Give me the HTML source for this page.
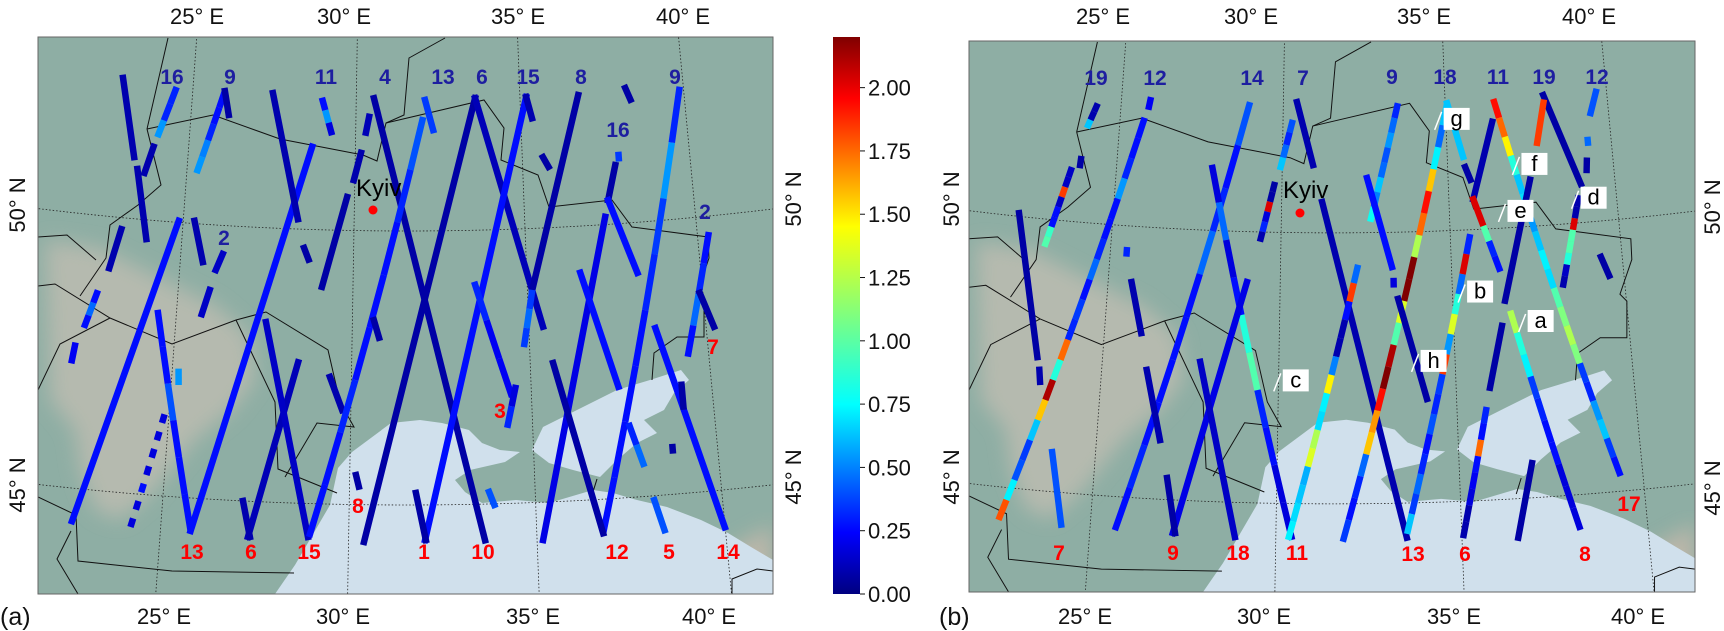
<!DOCTYPE html>
<html><head><meta charset="utf-8"><style>
html,body{margin:0;padding:0;background:#fff;}
svg{display:block;font-family:"Liberation Sans",sans-serif;}
.ax{font-size:22px;fill:#111;}
.lb{font-size:21px;font-weight:bold;}
.bl{fill:#1e1ea0;} .rd{fill:#ff0000;}
</style></head><body>
<svg id="fig" width="1724" height="631" viewBox="0 0 1724 631">
<defs>
<clipPath id="clipA" clipPathUnits="userSpaceOnUse"><rect x="38" y="37" width="735" height="557"/></clipPath>
<filter id="blur" x="-20%" y="-20%" width="140%" height="140%"><feGaussianBlur stdDeviation="10"/></filter>
<linearGradient id="jet" x1="0" y1="1" x2="0" y2="0">
<stop offset="0" stop-color="#000080"/><stop offset="0.11" stop-color="#0000ff"/><stop offset="0.34" stop-color="#00ffff"/><stop offset="0.5" stop-color="#7fff7f"/><stop offset="0.66" stop-color="#ffff00"/><stop offset="0.89" stop-color="#ff0000"/><stop offset="1" stop-color="#800000"/>
</linearGradient>
<g id="mapbg">
<rect x="38" y="37" width="735" height="557" fill="#8eaea4"/>
<polygon filter="url(#blur)" fill="#d6c4b8" opacity="0.55" points="45,240 100,248 160,278 215,305 250,335 255,380 232,410 195,440 150,495 120,520 95,510 80,470 75,430 50,400"/>
<polygon filter="url(#blur)" fill="#d6bcad" opacity="0.65" points="700,565 773,525 773,594 710,594"/>
<polygon fill="#d0e0ec" points="275,594 295,565 330,505 338,468 352,452 391,423 420,420 442,423 469,430 482,443 500,450 520,452 505,462 470,470 455,480 465,492 482,503 516,500 549,503 593,490 613,493 637,500 667,507 701,520 728,533 751,547 773,560 773,594"/>
<polygon fill="#d0e0ec" points="532,450 543,427 583,407 617,390 650,380 681,370 689,380 674,393 664,410 644,420 657,433 637,443 617,460 600,477 573,470 549,463"/>
<g fill="none" stroke="#111" stroke-width="1">
<polyline points="147,129 213,115 280,139 363,155 377,161 386,123 404,115 409,58 445,38"/>
<polyline points="386,123 484,100 504,128 501,160 538,175 549,207 612,200 632,227 708,237 709,258 697,293 704,300 704,337 677,337 654,353 652,380"/>
<polyline points="147,129 168,38"/>
<polyline points="147,129 161,185 138,205 110,225 106,258 80,296"/>
<polyline points="38,237 67,235 96,260"/>
<polyline points="38,286 55,284 110,318 172,344 236,320 266,312 328,350 340,402 354,427 317,423 285,477"/>
<polyline points="236,320 275,402 278,469 337,493"/>
<polyline points="38,390 60,344 110,318"/>
<polyline points="38,497 76,515 78,561 172,571 294,573"/>
<polyline points="71,531 57,559 78,594"/>
<polyline points="597,479 592,495"/>
<polyline points="732,594 732,579 757,569 773,571"/>
</g>
</g>
</defs>

<g id="panelA">
<g clip-path="url(#clipA)"><use href="#mapbg"/><g class="grat"></g><g class="tracks"></g></g>
</g>
<g id="panelB" transform="translate(969,41) scale(0.9878,0.989) translate(-38,-37)">
<g clip-path="url(#clipA)"><use href="#mapbg"/><g class="grat"></g><g class="tracks"></g></g>
</g>
<rect x="38" y="37" width="735" height="557" fill="none" stroke="#666" stroke-width="1"/>
<rect x="969" y="41" width="726" height="551" fill="none" stroke="#666" stroke-width="1"/>

<circle cx="373" cy="210" r="4.5" fill="#f00"/>
<text x="356" y="196" font-size="24" fill="#000">Kyiv</text>
<circle cx="1300" cy="213" r="4.5" fill="#f00"/>
<text x="1283" y="198" font-size="24" fill="#000">Kyiv</text>

<g class="ax" text-anchor="middle">
<text x="197" y="24">25° E</text><text x="344" y="24">30° E</text><text x="518" y="24">35° E</text><text x="683" y="24">40° E</text>
<text x="164" y="624">25° E</text><text x="343" y="624">30° E</text><text x="533" y="624">35° E</text><text x="709" y="624">40° E</text>
<text x="1103" y="24">25° E</text><text x="1251" y="24">30° E</text><text x="1424" y="24">35° E</text><text x="1589" y="24">40° E</text>
<text x="1085" y="624">25° E</text><text x="1264" y="624">30° E</text><text x="1454" y="624">35° E</text><text x="1638" y="624">40° E</text>
<text transform="translate(25,205) rotate(-90)">50° N</text><text transform="translate(25,485) rotate(-90)">45° N</text>
<text transform="translate(801,199) rotate(-90)">50° N</text><text transform="translate(801,477) rotate(-90)">45° N</text>
<text transform="translate(959,199) rotate(-90)">50° N</text><text transform="translate(959,477) rotate(-90)">45° N</text>
<text transform="translate(1720,207) rotate(-90)">50° N</text><text transform="translate(1720,488) rotate(-90)">45° N</text>
</g>
<text x="0" y="625" font-size="25" fill="#111">(a)</text>
<text x="939" y="625" font-size="25" fill="#111">(b)</text>

<g class="lb" text-anchor="middle">
<text class="bl" x="172" y="84">16</text><text class="bl" x="230" y="84">9</text><text class="bl" x="326" y="84">11</text><text class="bl" x="385" y="84">4</text><text class="bl" x="443" y="84">13</text><text class="bl" x="482" y="84">6</text><text class="bl" x="528" y="84">15</text><text class="bl" x="581" y="84">8</text><text class="bl" x="618" y="137">16</text><text class="bl" x="675" y="84">9</text><text class="bl" x="224" y="245">2</text><text class="bl" x="705" y="219">2</text>
<text class="rd" x="192" y="559">13</text><text class="rd" x="251" y="559">6</text><text class="rd" x="309" y="559">15</text><text class="rd" x="424" y="559">1</text><text class="rd" x="483" y="559">10</text><text class="rd" x="617" y="559">12</text><text class="rd" x="669" y="559">5</text><text class="rd" x="728" y="559">14</text><text class="rd" x="500" y="418">3</text><text class="rd" x="358" y="513">8</text><text class="rd" x="713" y="354">7</text>
</g>
<g class="lb" text-anchor="middle">
<text class="bl" x="1096" y="85">19</text><text class="bl" x="1155" y="85">12</text><text class="bl" x="1252" y="85">14</text><text class="bl" x="1303" y="85">7</text><text class="bl" x="1392" y="84">9</text><text class="bl" x="1445" y="84">18</text><text class="bl" x="1498" y="84">11</text><text class="bl" x="1544" y="84">19</text><text class="bl" x="1597" y="84">12</text>
<text class="rd" x="1059" y="560">7</text><text class="rd" x="1173" y="560">9</text><text class="rd" x="1238" y="560">18</text><text class="rd" x="1297" y="560">11</text><text class="rd" x="1413" y="561">13</text><text class="rd" x="1465" y="561">6</text><text class="rd" x="1585" y="561">8</text><text class="rd" x="1629" y="511">17</text>
</g>
<g id="tags"></g>

<rect x="833" y="37" width="27" height="557" fill="url(#jet)"/>
<g id="cbticks" class="ax"></g>
</svg>
<script>
const cbTicks = [0, 0.25, 0.5, 0.75, 1.0, 1.25, 1.5, 1.75, 2.0];
const cbMax = 2.2;
const tracksA = [
[22.84,52.54,23.40,51.12],[23.53,50.91,23.97,49.65],[24.50,52.46,24.04,51.52],[25.98,52.45,25.29,50.92],[25.98,52.45,26.14,52.02],
[23.95,51.34,23.75,50.85],[23.22,49.79,22.98,49.06],[22.72,48.64,22.43,47.93],[22.23,47.59,22.19,47.32],[24.87,50.03,22.64,44.40],
[25.33,50.05,25.65,49.31],[26.21,49.48,26.04,49.18],[25.90,48.81,25.72,48.36],[24.46,48.38,25.80,44.40],[25.80,44.40,28.70,51.51],
[27.45,52.46,28.35,50.18],[24.88,46.49,24.20,44.39],[25.18,47.28,25.20,47.10],[27.33,44.35,28.50,47.57],[27.15,45.00,27.38,44.35],
[27.55,48.28,28.92,44.39],[29.40,47.32,29.76,46.72],[30.54,52.42,33.62,44.34],[32.04,52.08,28.95,44.39],[32.10,52.39,32.34,51.84],
[33.63,52.41,30.41,44.32],[33.63,52.41,35.40,48.20],[35.19,52.40,32.03,44.36],[35.19,52.40,35.34,52.01],[36.78,52.39,35.14,48.88],
[35.14,48.88,34.84,47.84],[33.48,49.06,34.46,46.94],[34.58,47.16,34.30,46.38],[37.76,51.07,37.48,50.44],[37.48,50.44,38.18,49.08],
[37.36,50.14,35.16,44.31],[39.89,52.40,36.76,44.38],[36.54,49.15,37.42,47.03],[35.64,47.53,36.76,44.38],[40.34,49.71,39.41,47.48],
[39.91,48.62,40.22,47.98],[38.57,48.05,39.99,44.32],[37.63,46.36,37.98,45.54],[38.18,44.92,38.39,44.36],[38.78,45.86,38.78,45.80],
[39.17,46.98,39.17,46.58],[33.76,45.22,33.89,44.98],[31.79,45.22,32.05,44.36],[30.17,45.54,30.25,45.33],[30.61,48.37,30.76,48.05],
[29.78,50.61,29.11,48.96],[30.17,51.42,29.97,50.92],[30.40,52.08,30.31,51.79],[28.56,49.66,28.70,49.45],[28.95,52.41,29.29,51.73],
[38.23,52.46,38.36,52.24],[35.62,51.29,35.77,51.11],[37.88,51.25,37.88,51.19]
];
const valuesA = [
[0.1],[0.1],[0.35,0.35,0.6],[0.3,0.3,0.35,0.55,0.6],[0.08],
[0.1],[0.1],[0.3,0.5,0.3],[0.25],[0.3],
[0.1],[0.15],[0.15],[0.3,0.3,0.45,0.3,0.3,0.3],[0.3],
[0.1],[0.2,null,0.2,null,0.2,null,0.2,null,0.3,null,0.2,null,0.2],[0.6],[0.12],[0.1],
[0.15],[0.1],[0.08],[0.45,0.35,0.3,0.3,0.3,0.35,0.3,0.3],[0.4],
[0.08],[0.12],[0.3],[0.1],[0.08],
[0.4,0.5,0.4],[0.35,0.25,0.25],[0.2,0.35],[0.08],[0.3],
[0.22],[0.35,0.6,0.4,0.35,0.3,0.3,0.3,0.3],[0.3],[0.08],[0.3,0.35,0.5,0.3],
[0.08],[0.3],[0.35,0.5],[0.45],[0.08],
[0.08],[0.45],[0.08],[0.08],[0.08],
[0.08],[0.1],[0.12],[0.08],[0.3,0.6,0.2],
[0.08],[0.08],[0.4]
];
const tracksB = [
[24.28,52.21,24.01,51.74],[23.91,51.16,23.90,51.05],[23.66,51.00,23.06,49.49],[22.22,50.06,23.16,47.45],[23.25,47.22,23.30,47.00],
[25.75,52.01,22.53,44.39],[25.89,52.34,25.86,52.22],[23.81,45.73,24.22,44.41],[28.97,52.39,25.67,44.38],[27.87,51.21,30.44,44.33],
[29.03,49.07,27.23,44.39],[27.00,45.40,27.29,44.39],[27.77,47.57,28.90,44.36],[25.68,48.97,26.05,48.04],[26.27,47.37,26.75,46.09],
[25.48,49.55,25.48,49.49],[30.42,52.41,30.93,51.25],[30.30,52.08,29.93,51.15],[29.79,50.93,29.38,49.82],[31.21,50.57,33.52,44.36],
[32.27,49.41,30.33,44.33],[35.06,52.35,31.80,44.30],[35.59,49.92,33.53,44.43],[33.42,48.77,34.17,46.91],[33.54,52.38,32.64,50.20],
[32.56,51.01,33.26,49.36],[35.06,52.35,35.48,51.35],[35.53,51.16,35.67,50.92],[36.49,52.39,39.39,45.28],[36.42,51.97,35.73,50.56],
[35.73,50.56,35.99,50.06],[35.99,50.06,36.42,49.20],[38.04,52.40,38.97,50.71],[38.03,52.26,37.75,51.53],[39.67,52.38,39.45,52.00],
[39.29,51.51,39.29,51.46],[39.21,51.13,39.18,50.96],[38.88,50.51,38.20,48.83],[37.46,50.86,36.51,48.66],[36.38,48.20,35.95,47.07],
[36.64,48.47,38.19,44.35],[35.83,46.72,35.03,44.32],[37.00,45.64,36.51,44.28],[39.38,49.34,39.57,48.98],[33.30,49.10,33.30,49.04]
];
const valuesB = [
[0.1,0.1,0.7],[0.08],[0.15,0.15,1.8,0.15,0.3,0.3,0.95,1.0],[0.08],[0.1],
[0.3,0.3,0.35,0.6,0.3,0.3,0.35,0.5,0.3,0.4,0.35,1.7,0.9,2.1,1.5,0.7,0.4,0.45,0.8,1.75],[0.25],[0.45],[0.45,0.3,0.35,0.5,0.3,0.3,0.3,0.3,0.35,0.3],[0.2,0.5,0.2,0.3,0.9,1.0,0.35,0.3,0.2,0.2],
[0.22],[0.08],[0.15],[0.1],[0.1],
[0.35],[0.1],[0.45,0.35,0.5,0.7],[0.08,0.08,2.0,0.2,0.35,0.1],[0.1],
[0.5,1.8,0.3,0.1,0.1,0.55,1.4,0.8,0.75,1.2,1.3,0.65,0.7,0.75,0.8],
[0.7,0.5,0.8,1.5,1.9,1.7,1.2,2.2,2.2,1.3,1.0,2.1,2.2,1.9,1.6,1.5,0.5,0.35,0.3,0.4],
[0.35,2.0,0.5,0.9,1.3,0.6,1.8,0.4,0.35,0.45,0.3,0.35,0.5,0.4,0.7],[0.08],[0.35,0.5,0.6,0.45,0.5,0.7,0.55,0.85],
[0.3],[0.7],[0.08],[1.9,1.7,1.4,0.9,0.7,0.75,0.6,0.7,0.8,0.75,1.0,1.1,1.2,1.1,0.4,0.35,0.6,0.7,0.4,0.3],[0.1],
[2.0],[1.0,0.35,0.3],[0.08],[1.8],[0.45],
[0.5],[0.08],[0.1,0.1,2.0,1.0,1.0,0.9,0.15,0.1],[0.08],[0.08],
[1.2,0.9,0.8,0.4,0.35,0.3,0.3,0.2,0.2,0.2],[0.35,0.3,1.7,0.3,0.25,0.2,0.1,0.1],[0.08],[0.08],[0.2]
];
const tagLetters = ['c','g','f','e','d','b','a','h'];
const tagLon = [29.95,34.75,37.05,36.55,38.75,35.25,36.95,33.85];
const tagLat = [47.25,52.05,51.15,50.30,50.45,48.85,48.25,47.60];

const NS='http://www.w3.org/2000/svg';
function proj(lon,lat){const r=3049+(50-lat)*54.8;const th=(lon-31.55)*0.643*Math.PI/180;return [407+r*Math.sin(th),-2818+r*Math.cos(th)];}
function jet(v){const t=Math.max(0,Math.min(1,v/cbMax));const c=x=>Math.round(255*Math.max(0,Math.min(1,1.5-Math.abs(4*t-x))));return 'rgb('+c(3)+','+c(2)+','+c(1)+')';}
function mk(tag,attrs,parent){const e=document.createElementNS(NS,tag);for(const k in attrs)e.setAttribute(k,attrs[k]);parent.appendChild(e);return e;}

function drawGrat(g){
  [45,50].forEach(lat=>{let pts=[];for(let lon=18;lon<=46;lon+=0.5){pts.push(proj(lon,lat).join(','));}
    const p=mk('polyline',{points:pts.join(' '),fill:'none',stroke:'#222','stroke-width':0.8,'stroke-dasharray':'1.5,2'},g);
    
    });
  [25,30,35,40].forEach(lon=>{const a=proj(lon,54),b=proj(lon,43);
    const l=mk('line',{x1:a[0],y1:a[1],x2:b[0],y2:b[1],stroke:'#222','stroke-width':0.8,'stroke-dasharray':'1.5,2'},g);
    
    });
}
function drawTracks(g,tracks,vals,prefix){
  tracks.forEach((t,i)=>{const v=vals[i];const n=v.length;const tg=mk('g',{},g);
    
    
    for(let k=0;k<n;k++){if(v[k]===null)continue;
      const f0=k/n,f1=(k+1)/n;
      const a=proj(t[0]+(t[2]-t[0])*f0,t[1]+(t[3]-t[1])*f0);
      const b=proj(t[0]+(t[2]-t[0])*f1,t[1]+(t[3]-t[1])*f1);
      const s=mk('line',{x1:a[0],y1:a[1],x2:b[0],y2:b[1],stroke:jet(v[k]),'stroke-width':6.5,'stroke-linecap':(n===1?'square':'butt')},tg);
      
      }
  });
}
const pa=document.querySelector('#panelA'), pb=document.querySelector('#panelB');
drawGrat(pa.querySelector('.grat')); drawGrat(pb.querySelector('.grat'));
drawTracks(pa.querySelector('.tracks'),tracksA,valuesA,'a');
drawTracks(pb.querySelector('.tracks'),tracksB,valuesB,'b');

function toB(p){return [969+(p[0]-38)*0.9878, 41+(p[1]-37)*0.989];}
const tags=document.getElementById('tags');
tagLetters.forEach((L,i)=>{const p=toB(proj(tagLon[i],tagLat[i]));
  const ln=mk('line',{x1:p[0]-3,y1:p[1]+10,x2:p[0]+4,y2:p[1]-8,stroke:'#fff','stroke-width':1.5},tags);
  
  
  const r=mk('rect',{x:p[0]+6,y:p[1]-12,width:26,height:22,fill:'#fff'},tags);
  
  
  const tx=mk('text',{x:p[0]+19,y:p[1]+6,'text-anchor':'middle','font-size':22,fill:'#000'},tags);
  tx.textContent=L;
  
  
});
const cb=document.getElementById('cbticks');
cbTicks.forEach(v=>{const y=594-v/cbMax*557;
  const l=mk('line',{x1:860,y1:y,x2:865,y2:y,stroke:'#111','stroke-width':1},cb);
  
  
  const t=mk('text',{x:868,y:y+8},cb);t.textContent=v.toFixed(2);
  
  });
</script>
</body></html>
